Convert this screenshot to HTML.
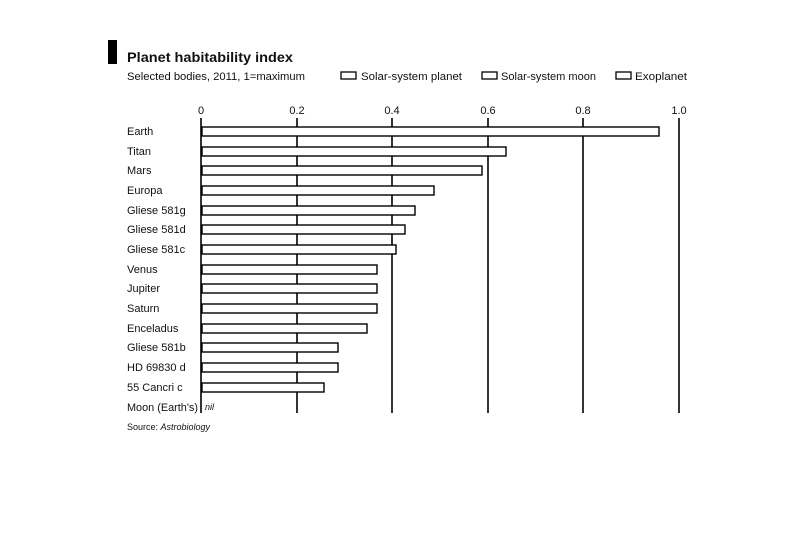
<!DOCTYPE html>
<html><head><meta charset="utf-8"><style>
html,body{margin:0;padding:0;background:#fff;}
svg{display:block;font-family:"Liberation Sans",sans-serif;}
</style></head><body>
<svg width="810" height="534" viewBox="0 0 810 534" xmlns="http://www.w3.org/2000/svg">
<rect x="108" y="40" width="9" height="24" fill="#000"/>
<text x="127" y="62" font-size="14" font-weight="bold" fill="#111" textLength="166" lengthAdjust="spacingAndGlyphs">Planet habitability index</text>
<text x="127" y="80" font-size="11" fill="#111" textLength="178" lengthAdjust="spacingAndGlyphs">Selected bodies, 2011, 1=maximum</text>
<rect x="341" y="72" width="15" height="7" fill="#fff" stroke="#000" stroke-width="1.3"/>
<text x="361" y="80" font-size="11" fill="#111" textLength="101" lengthAdjust="spacingAndGlyphs">Solar-system planet</text>
<rect x="482" y="72" width="15" height="7" fill="#fff" stroke="#000" stroke-width="1.3"/>
<text x="501" y="80" font-size="11" fill="#111" textLength="95" lengthAdjust="spacingAndGlyphs">Solar-system moon</text>
<rect x="616" y="72" width="15" height="7" fill="#fff" stroke="#000" stroke-width="1.3"/>
<text x="635" y="80" font-size="11" fill="#111" textLength="52" lengthAdjust="spacingAndGlyphs">Exoplanet</text>
<g font-size="11" fill="#111" text-anchor="middle">
<text x="201" y="114">0</text><text x="297" y="114">0.2</text><text x="392" y="114">0.4</text><text x="488" y="114">0.6</text><text x="583" y="114">0.8</text><text x="679" y="114">1.0</text>
</g>
<g stroke="#000" stroke-width="1.6">
<line x1="201" y1="118" x2="201" y2="413"/><line x1="297" y1="118" x2="297" y2="413"/><line x1="392" y1="118" x2="392" y2="413"/><line x1="488" y1="118" x2="488" y2="413"/><line x1="583" y1="118" x2="583" y2="413"/><line x1="679" y1="118" x2="679" y2="413"/>
</g>
<g fill="#fff" stroke="#000" stroke-width="1.4">
<rect x="202" y="127" width="457" height="9"/>
<rect x="202" y="147" width="304" height="9"/>
<rect x="202" y="166" width="280" height="9"/>
<rect x="202" y="186" width="232" height="9"/>
<rect x="202" y="206" width="213" height="9"/>
<rect x="202" y="225" width="203" height="9"/>
<rect x="202" y="245" width="194" height="9"/>
<rect x="202" y="265" width="175" height="9"/>
<rect x="202" y="284" width="175" height="9"/>
<rect x="202" y="304" width="175" height="9"/>
<rect x="202" y="324" width="165" height="9"/>
<rect x="202" y="343" width="136" height="9"/>
<rect x="202" y="363" width="136" height="9"/>
<rect x="202" y="383" width="122" height="9"/>
</g>
<g font-size="11" fill="#111">
<text x="127" y="135">Earth</text>
<text x="127" y="155">Titan</text>
<text x="127" y="174">Mars</text>
<text x="127" y="194">Europa</text>
<text x="127" y="214">Gliese 581g</text>
<text x="127" y="233">Gliese 581d</text>
<text x="127" y="253">Gliese 581c</text>
<text x="127" y="273">Venus</text>
<text x="127" y="292">Jupiter</text>
<text x="127" y="312">Saturn</text>
<text x="127" y="332">Enceladus</text>
<text x="127" y="351">Gliese 581b</text>
<text x="127" y="371">HD 69830 d</text>
<text x="127" y="391">55 Cancri c</text>
<text x="127" y="411" textLength="71" lengthAdjust="spacingAndGlyphs">Moon (Earth's)</text>
<text x="205" y="410" font-size="9" font-style="italic">nil</text>
<text x="127" y="430" font-size="9">Source: <tspan font-style="italic">Astrobiology</tspan></text>
</g>
</svg>
</body></html>
